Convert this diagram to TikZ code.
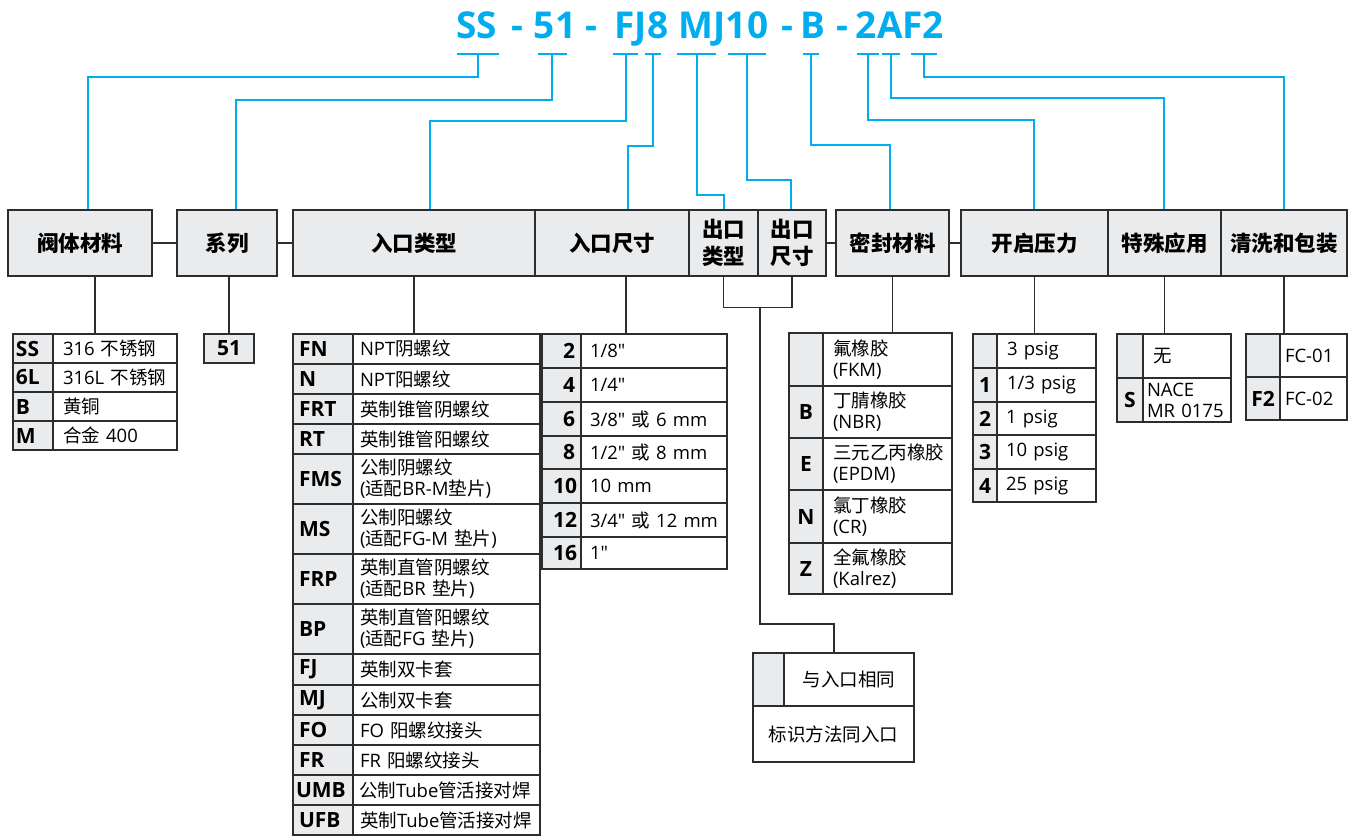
\documentclass[tikz,border=0pt]{standalone}
\usepackage{fontspec}
\setmainfont{Open Sans}[Ligatures=TeXOff]
\newfontfamily\cjk{Noto Sans CJK SC}
\newcommand\z[1]{{\cjk #1}}
\definecolor{bl}{RGB}{0,174,239}
\definecolor{cg}{RGB}{234,235,237}
\definecolor{dk}{RGB}{45,45,45}
\newcommand\bodyf{\fontsize{18.5}{21}\selectfont}
\newcommand\codef{\fontsize{21}{24}\selectfont\bfseries}
\newcommand\hdrf{\fontsize{21.5}{27}\selectfont\bfseries}
\newcommand\titf{\fontsize{37}{40}\selectfont\bfseries}
% name, x1, x2, y1, y2, pad, style, text
\newcommand\cell[8]{%
  \pgfmathsetmacro\cw{#3-#2-2*#6}%
  \pgfmathsetmacro\chh{#5-#4}%
  \node[cellb,#7,text width=\cw pt,minimum height=\chh pt,inner xsep=#6 pt] (#1) at ({(#2+#3)/2},{(#4+#5)/2}) {#8};}
\tikzset{
  cellb/.style={draw=dk,line width=1.2pt,inner ysep=0pt,font=\bodyf,align=left,fill=white},
  codec/.style={fill=cg,font=\codef},
  hdr/.style={draw=dk,line width=1.3pt,fill=cg,font=\hdrf,align=center,inner sep=0pt,minimum height=66pt},
  tit/.style={anchor=base,text=bl,font=\titf,inner sep=0pt},
  blw/.style={draw=bl,line width=1.8pt},
  ln/.style={draw=dk,line width=1.2pt}
}
\begin{document}
\begin{tikzpicture}[x=1pt,y=-1pt]
\useasboundingbox (0,0) rectangle (1349,836);
% title
\node[tit] (tSS) at (476.5,38) {SS};
\node[tit] (tD1) at (517,38) {-};
\node[tit] (t51) at (555,38) {51};
\node[tit] (tD2) at (591,38) {-};
\node[tit] (tFJ) at (641.5,38) {FJ8};
\node[tit] (tMJ) at (723.5,38) {MJ10};
\node[tit] (tD3) at (787,38) {-};
\node[tit] (tB) at (813,38) {B};
\node[tit] (tD4) at (842,38) {-};
\node[tit] (tAF) at (900,38) {2AF2};
% headers
\node[hdr,minimum width=144pt] (hA) at (80,243) {\z{阀体材料}};
\node[hdr,minimum width=100pt] (hB) at (227,243) {\z{系列}};
\node[hdr,minimum width=242pt] (hC) at (414,243) {\z{入口类型}};
\node[hdr,minimum width=154pt] (hD) at (612,243) {\z{入口尺寸}};
\node[hdr,minimum width=69pt] (hE) at (723.5,243) {\z{出口}\\\z{类型}};
\node[hdr,minimum width=68pt] (hF) at (792,243) {\z{出口}\\\z{尺寸}};
\node[hdr,minimum width=113pt] (hG) at (892.5,243) {\z{密封材料}};
\node[hdr,minimum width=147pt] (hH) at (1034.5,243) {\z{开启压力}};
\node[hdr,minimum width=113pt] (hI) at (1164.5,243) {\z{特殊应用}};
\node[hdr,minimum width=126pt] (hJ) at (1284,243) {\z{清洗和包装}};
\draw[ln] (hA.east) -- (hB.west);
\draw[ln] (hB.east) -- (hC.west);
\draw[ln] (hF.east) -- (hG.west);
\draw[ln] (hG.east) -- (hH.west);
% blue connectors
\coordinate (s1) at (478,54);  \coordinate (k1) at (88,77);
\coordinate (s2) at (552,54);  \coordinate (k2) at (236,100);
\coordinate (s3) at (626,54);  \coordinate (k3) at (430,121);
\coordinate (s4) at (653,54);  \coordinate (k4) at (628,146);
\coordinate (s5) at (697,54);  \coordinate (k5) at (724,195);
\coordinate (s6) at (747,54);  \coordinate (k6) at (791,180);
\coordinate (s7) at (811,54);  \coordinate (k7) at (890,145);
\coordinate (s8) at (868,54);  \coordinate (k8) at (1034,120);
\coordinate (s9) at (891,54);  \coordinate (k9) at (1164,98);
\coordinate (s10) at (924,54); \coordinate (k10) at (1284,77);
\draw[blw] ([xshift=-21pt]s1) -- ([xshift=21pt]s1);
\draw[blw] ([xshift=-14pt]s2) -- ([xshift=15pt]s2);
\draw[blw] ([xshift=-13pt]s3) -- ([xshift=12pt]s3);
\draw[blw] ([xshift=-8pt]s4) -- ([xshift=8pt]s4);
\draw[blw] ([xshift=-20pt]s5) -- ([xshift=19pt]s5);
\draw[blw] ([xshift=-19pt]s6) -- ([xshift=19pt]s6);
\draw[blw] ([xshift=-8pt]s7) -- ([xshift=8pt]s7);
\draw[blw] ([xshift=-11pt]s8) -- ([xshift=11pt]s8);
\draw[blw] ([xshift=-9pt]s9) -- ([xshift=9pt]s9);
\draw[blw] ([xshift=-13pt]s10) -- ([xshift=13pt]s10);
\draw[blw] (s1) |- (k1) -- (k1 |- hA.north);
\draw[blw] (s2) |- (k2) -- (k2 |- hB.north);
\draw[blw] (s3) |- (k3) -- (k3 |- hC.north);
\draw[blw] (s4) |- (k4) -- (k4 |- hD.north);
\draw[blw] (s5) |- (k5) -- (k5 |- hE.north);
\draw[blw] (s6) |- (k6) -- (k6 |- hF.north);
\draw[blw] (s7) |- (k7) -- (k7 |- hG.north);
\draw[blw] (s8) |- (k8) -- (k8 |- hH.north);
\draw[blw] (s9) |- (k9) -- (k9 |- hI.north);
\draw[blw] (s10) |- (k10) -- (k10 |- hJ.north);
% table: body material
\cell{a1c}{13}{53}{334}{363}{3}{codec}{SS}
\cell{a1t}{53}{177}{334}{363}{10}{}{316~\z{不锈钢}}
\cell{a2c}{13}{53}{363}{392}{3}{codec}{6L}
\cell{a2t}{53}{177}{363}{392}{10}{}{316L~\z{不锈钢}}
\cell{a3c}{13}{53}{392}{421}{3}{codec}{B}
\cell{a3t}{53}{177}{392}{421}{10}{}{\z{黄铜}}
\cell{a4c}{13}{53}{421}{450}{3}{codec}{M}
\cell{a4t}{53}{177}{421}{450}{10}{}{\z{合金}~400}
% series
\cell{b1c}{204}{254}{334}{363}{2}{codec,align=center}{51}
% inlet type
\cell{c1c}{293}{353}{334}{364}{6}{codec}{FN}
\cell{c1t}{353}{540}{334}{364}{7}{}{NPT\z{阴螺纹}}
\cell{c2c}{293}{353}{364}{394}{6}{codec}{N}
\cell{c2t}{353}{540}{364}{394}{7}{}{NPT\z{阳螺纹}}
\cell{c3c}{293}{353}{394}{424}{6}{codec}{FRT}
\cell{c3t}{353}{540}{394}{424}{7}{}{\z{英制锥管阴螺纹}}
\cell{c4c}{293}{353}{424}{454}{6}{codec}{RT}
\cell{c4t}{353}{540}{424}{454}{7}{}{\z{英制锥管阳螺纹}}
\cell{c5c}{293}{353}{454}{504}{6}{codec}{FMS}
\cell{c5t}{353}{540}{454}{504}{7}{}{\z{公制阴螺纹}\\(\z{适配}BR-M\z{垫片})}
\cell{c6c}{293}{353}{504}{554}{6}{codec}{MS}
\cell{c6t}{353}{540}{504}{554}{7}{}{\z{公制阳螺纹}\\(\z{适配}FG-M~\z{垫片})}
\cell{c7c}{293}{353}{554}{604}{6}{codec}{FRP}
\cell{c7t}{353}{540}{554}{604}{7}{}{\z{英制直管阴螺纹}\\(\z{适配}BR~\z{垫片})}
\cell{c8c}{293}{353}{604}{654}{6}{codec}{BP}
\cell{c8t}{353}{540}{604}{654}{7}{}{\z{英制直管阳螺纹}\\(\z{适配}FG~\z{垫片})}
\cell{c9c}{293}{353}{654}{685}{6}{codec}{FJ}
\cell{c9t}{353}{540}{654}{685}{7}{}{\z{英制双卡套}}
\cell{c10c}{293}{353}{685}{715}{6}{codec}{MJ}
\cell{c10t}{353}{540}{685}{715}{7}{}{\z{公制双卡套}}
\cell{c11c}{293}{353}{715}{745}{6}{codec}{FO}
\cell{c11t}{353}{540}{715}{745}{7}{}{FO~\z{阳螺纹接头}}
\cell{c12c}{293}{353}{745}{775}{6}{codec}{FR}
\cell{c12t}{353}{540}{745}{775}{7}{}{FR~\z{阳螺纹接头}}
\cell{c13c}{293}{353}{775}{805}{3}{codec}{UMB}
\cell{c13t}{353}{540}{775}{805}{6}{}{\z{公制}Tube\z{管活接对焊}}
\cell{c14c}{293}{353}{805}{835}{6}{codec}{UFB}
\cell{c14t}{353}{540}{805}{835}{7}{}{\z{英制}Tube\z{管活接对焊}}
% inlet size
\cell{d1c}{542}{581}{334}{368}{6}{codec,align=right}{2}
\cell{d1t}{581}{727}{334}{368}{9}{}{1/8"}
\cell{d2c}{542}{581}{368}{402}{6}{codec,align=right}{4}
\cell{d2t}{581}{727}{368}{402}{9}{}{1/4"}
\cell{d3c}{542}{581}{402}{436}{6}{codec,align=right}{6}
\cell{d3t}{581}{727}{402}{436}{9}{}{3/8"~\z{或}~6~mm}
\cell{d4c}{542}{581}{436}{469}{6}{codec,align=right}{8}
\cell{d4t}{581}{727}{436}{469}{9}{}{1/2"~\z{或}~8~mm}
\cell{d5c}{542}{581}{469}{503}{4}{codec,align=right}{10}
\cell{d5t}{581}{727}{469}{503}{9}{}{10~mm}
\cell{d6c}{542}{581}{503}{537}{4}{codec,align=right}{12}
\cell{d6t}{581}{727}{503}{537}{9}{}{3/4"~\z{或}~12~mm}
\cell{d7c}{542}{581}{537}{569}{4}{codec,align=right}{16}
\cell{d7t}{581}{727}{537}{569}{9}{}{1"}
% seal material
\cell{g1c}{789}{823}{333}{386}{2}{codec,align=center}{}
\cell{g1t}{823}{952}{333}{386}{10}{}{\z{氟橡胶}\\(FKM)}
\cell{g2c}{789}{823}{386}{438}{2}{codec,align=center}{B}
\cell{g2t}{823}{952}{386}{438}{10}{}{\z{丁腈橡胶}\\(NBR)}
\cell{g3c}{789}{823}{438}{490}{2}{codec,align=center}{E}
\cell{g3t}{823}{952}{438}{490}{10}{}{\z{三元乙丙橡胶}\\(EPDM)}
\cell{g4c}{789}{823}{490}{543}{2}{codec,align=center}{N}
\cell{g4t}{823}{952}{490}{543}{10}{}{\z{氯丁橡胶}\\(CR)}
\cell{g5c}{789}{823}{543}{594}{2}{codec,align=center}{Z}
\cell{g5t}{823}{952}{543}{594}{10}{}{\z{全氟橡胶}\\(Kalrez)}
% cracking pressure
\cell{p1c}{973}{997}{334}{368}{1}{codec,align=center}{}
\cell{p1t}{997}{1096}{334}{368}{10}{}{3~psig}
\cell{p2c}{973}{997}{368}{402}{1}{codec,align=center}{1}
\cell{p2t}{997}{1096}{368}{402}{10}{}{1/3~psig}
\cell{p3c}{973}{997}{402}{435}{1}{codec,align=center}{2}
\cell{p3t}{997}{1096}{402}{435}{9}{}{1~psig}
\cell{p4c}{973}{997}{435}{469}{1}{codec,align=center}{3}
\cell{p4t}{997}{1096}{435}{469}{9}{}{10~psig}
\cell{p5c}{973}{997}{469}{502}{1}{codec,align=center}{4}
\cell{p5t}{997}{1096}{469}{502}{9}{}{25~psig}
% special application
\cell{i1c}{1117}{1143}{334}{378}{1}{codec,align=center}{}
\cell{i1t}{1143}{1231}{334}{378}{10}{}{\z{无}}
\cell{i2c}{1117}{1143}{378}{422}{1}{codec,align=center}{S}
\cell{i2t}{1143}{1231}{378}{422}{4}{}{NACE\\MR~0175}
% cleaning
\cell{j1c}{1246}{1280}{334}{377}{1}{codec,align=center}{}
\cell{j1t}{1280}{1347}{334}{377}{5}{}{FC-01}
\cell{j2c}{1246}{1280}{377}{420}{1}{codec,align=center}{F2}
\cell{j2t}{1280}{1347}{377}{420}{5}{}{FC-02}
% outlet box
\cell{o1c}{753}{784}{653}{706}{1}{codec}{}
\cell{o1t}{784}{914}{653}{706}{4}{align=center}{\z{与入口相同}}
\cell{o2t}{753}{914}{706}{762}{4}{align=center}{\z{标识方法同入口}}
% dark connectors headers -> tables
\coordinate (dA) at ([xshift=15pt]hA.south);
\draw[ln] (dA) -- (dA |- a1t.north);
\coordinate (dB) at ([xshift=2pt]hB.south);
\draw[ln] (dB) -- (dB |- b1c.north);
\draw[ln] (hC.south) -- (hC.south |- c1t.north);
\coordinate (dD) at ([xshift=14pt]hD.south);
\draw[ln] (dD) -- (dD |- d1t.north);
\draw[ln] (hE.south) -- ++(0,31) -| (hF.south);
\coordinate (jm) at (760,307);
\coordinate (jo) at (834,624);
\draw[ln] (jm) |- (jo) -- (jo |- o1t.north);
\draw[ln] (hG.south) -- (hG.south |- g1t.north);
\draw[ln] (hH.south) -- (hH.south |- p1t.north);
\draw[ln] (hI.south) -- (hI.south |- i1t.north);
\draw[ln] (hJ.south) -- (hJ.south |- j1t.north);
\end{tikzpicture}
\end{document}
